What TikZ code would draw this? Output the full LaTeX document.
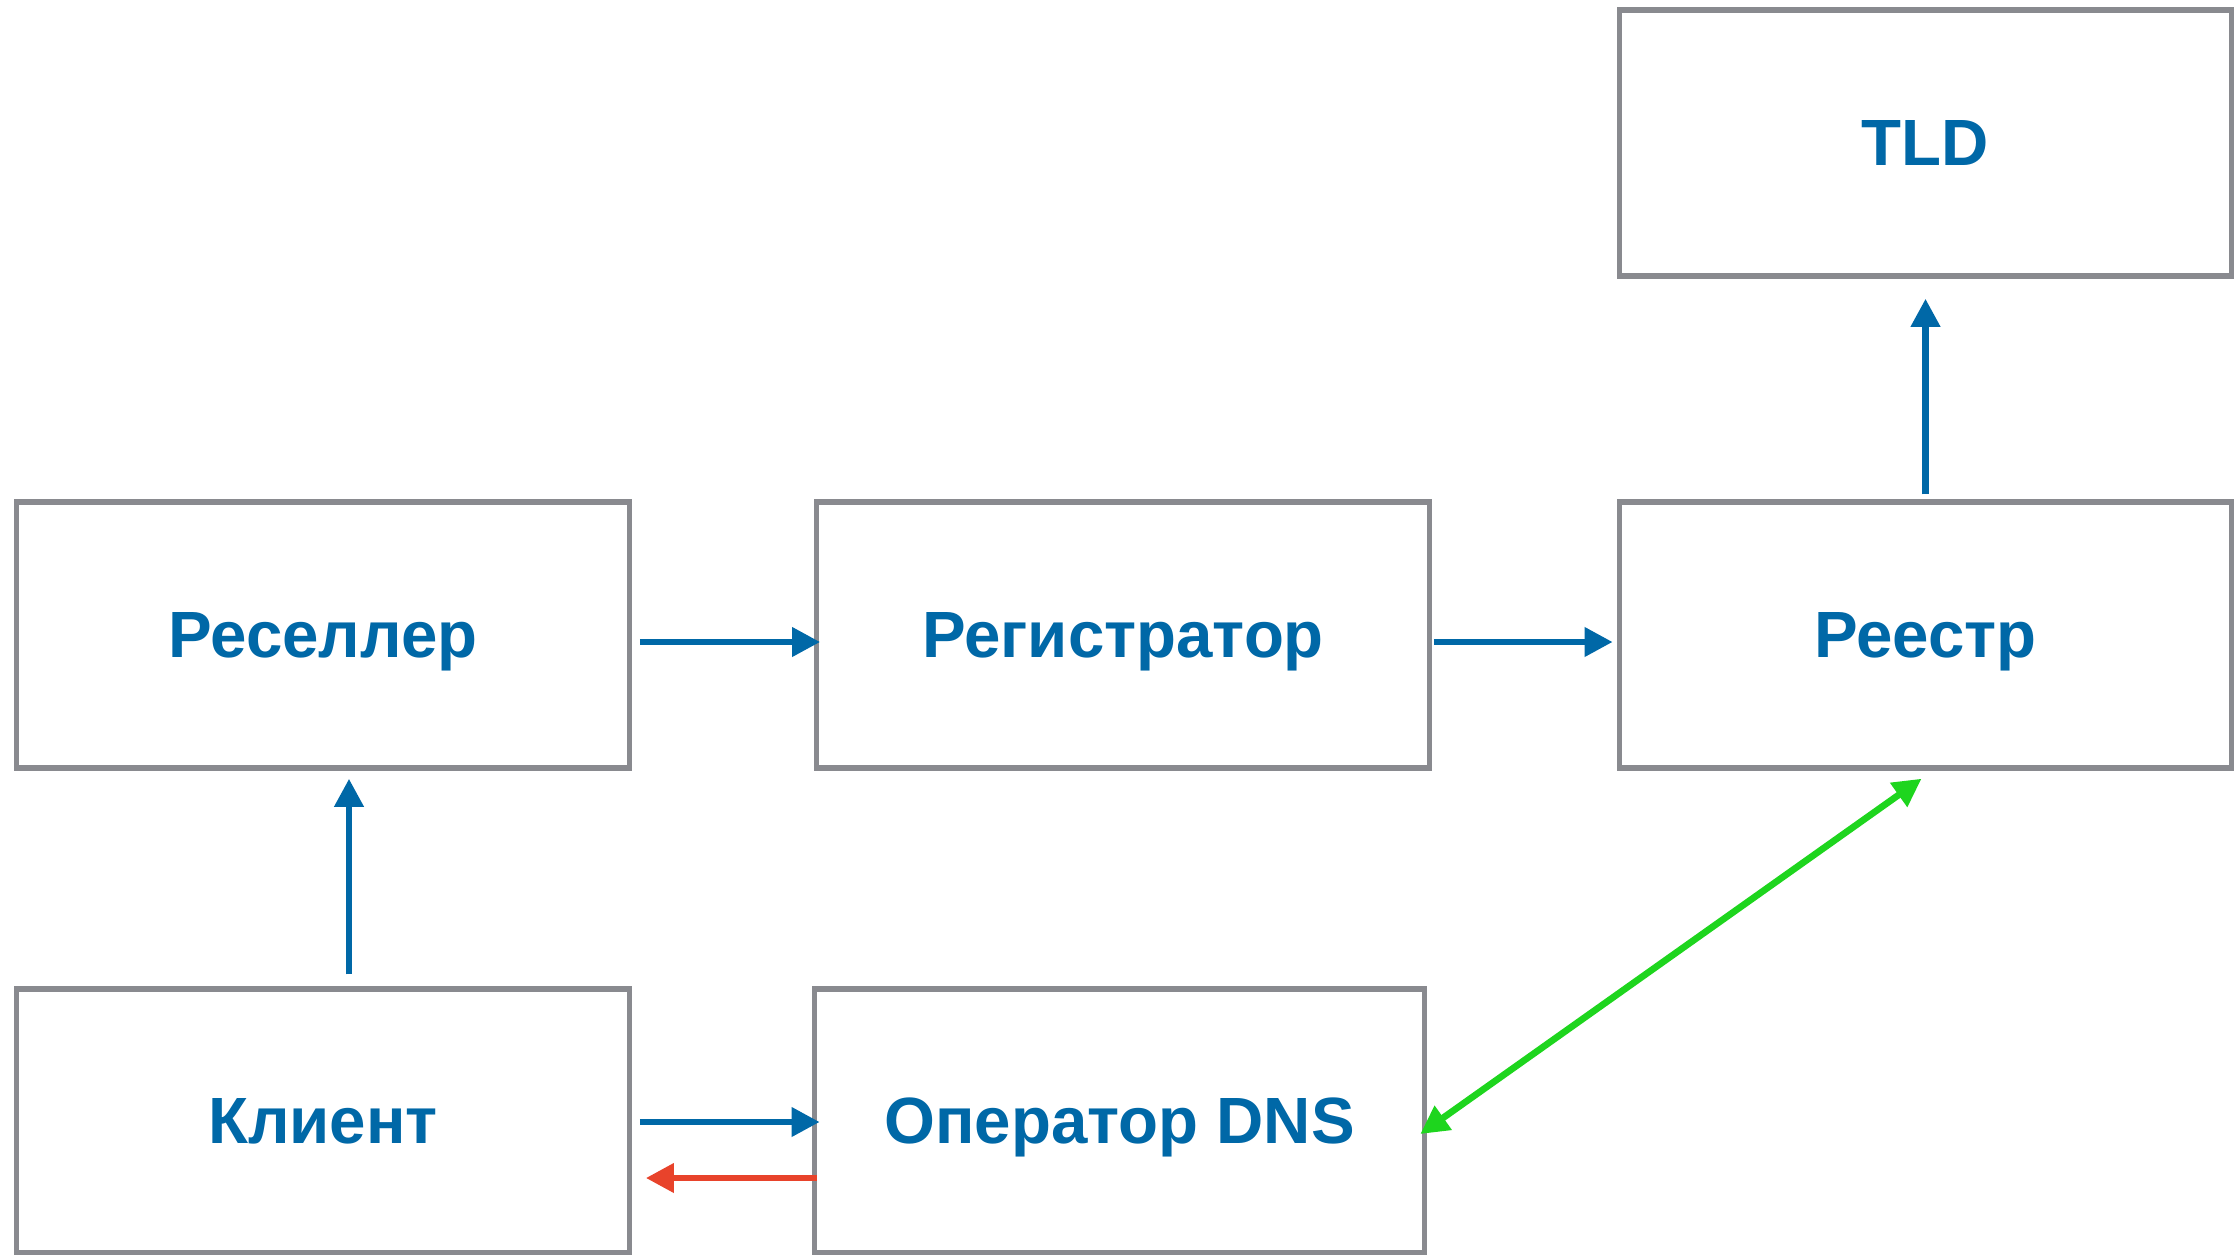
\documentclass[tikz,border=0pt]{standalone}
\usepackage{fontspec}
\setmainfont{Liberation Sans}
\usepackage{tikz}
\usetikzlibrary{positioning, arrows.meta, calc}
\usepackage{xcolor}
\definecolor{dnsblue}{HTML}{0068A7}
\definecolor{dnsgray}{HTML}{898A8F}
\definecolor{dnsgreen}{HTML}{1ED51E}
\definecolor{dnsred}{HTML}{E8432B}

\begin{document}
\begin{tikzpicture}[x=0.01cm, y=-0.01cm,
    box/.style={draw=dnsgray, line width=1.5pt, fill=white, text=dnsblue,
                font=\fontsize{18.6}{22}\selectfont\bfseries, text depth=0pt,
                minimum width=6.12cm, minimum height=2.66cm, inner sep=0pt},
    flow/.style={line width=1.9pt, -{Triangle[length=8pt, width=8pt]}}]
    \useasboundingbox (0,0) rectangle (2234,1255);
    \node[box] (tld) at (1925.5,143) {TLD};
    \node[box] (reseller) at (323,635) {Реселлер};
    \node[box] (registrar) at (1123,635) {Регистратор};
    \node[box] (registry) at (1925.5,635) {Реестр};
    \node[box, minimum height=2.64cm] (client) at (323,1121) {Клиент};
    \node[box, minimum width=6.1cm, minimum height=2.64cm] (dnsop) at (1119.5,1121) {Оператор DNS};
    \draw[flow, dnsblue] ($(reseller.east)+(8,7)$) -- ($(registrar.west)+(6,7)$);
    \draw[flow, dnsblue] ($(registrar.east)+(2,7)$) -- ($(registry.west)+(-4,7)$);
    \draw[flow, dnsblue] ($(registry.north)+(0,-5)$) -- ($(tld.south)+(0,20)$);
    \draw[flow, dnsblue] ($(client.north)+(26,-12)$) -- ($(reseller.south)+(26,8)$);
    \draw[flow, dnsblue] ($(client.east)+(8,1)$) -- ($(dnsop.west)+(8,1)$);
    \draw[flow, dnsred] ($(dnsop.west)+(5,57)$) -- ($(client.east)+(14,57)$);
    \draw[flow, dnsgreen, {Triangle[length=8pt, width=8pt]}-{Triangle[length=8pt, width=8pt]}]
        ($(dnsop.east)+(-7,13)$) -- ($(registry.south)+(-4,8)$);
  \end{tikzpicture}
\end{document}
